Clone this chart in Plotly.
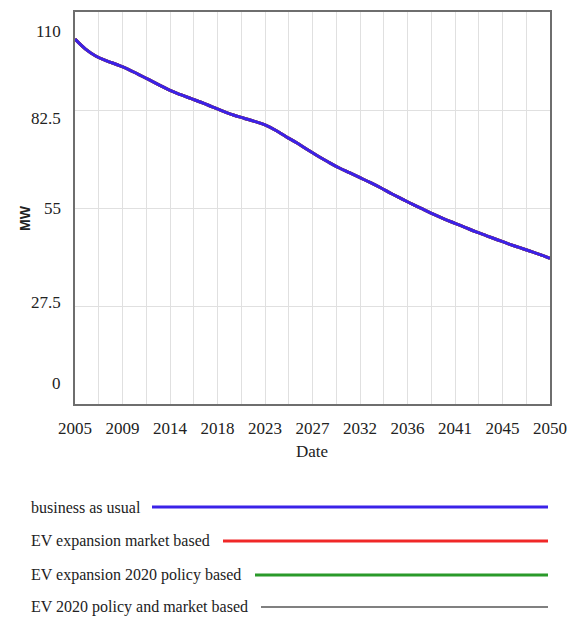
import plotly.graph_objects as go

years = list(range(2005, 2051))
business_as_usual = [102.4, 99.6, 97.6, 96.3, 95.2, 94.0, 92.5, 91.0, 89.5, 88.0,
                     86.8, 85.7, 84.6, 83.4, 82.2, 81.1, 80.2, 79.3, 78.3, 76.8,
                     75.0, 73.3, 71.4, 69.6, 67.9, 66.3, 64.9, 63.5, 62.1, 60.6,
                     59.0, 57.5, 56.0, 54.6, 53.2, 51.9, 50.7, 49.5, 48.3, 47.2,
                     46.1, 45.0, 44.0, 43.0, 42.0, 40.9]
# the other scenarios coincide with business as usual for this variable
ev_market = business_as_usual
ev_policy = business_as_usual
ev_policy_market = business_as_usual

series_names = ["business as usual", "EV expansion market based",
                "EV expansion 2020 policy based", "EV 2020 policy and market based"]
series_colors = ["#3a22e8", "#f02828", "#2a9a2a", "#808080"]
series_values = [business_as_usual, ev_market, ev_policy, ev_policy_market]

x_tick_vals = [2005, 2009.5, 2014, 2018.5, 2023, 2027.5, 2032, 2036.5, 2041, 2045.5, 2050]
x_tick_text = ["2005", "2009", "2014", "2018", "2023", "2027", "2032", "2036", "2041", "2045", "2050"]
y_tick_vals = [0, 27.5, 55, 82.5, 110]
y_tick_text = ["0", "27.5", "55", "82.5", "110"]

W, H = 568, 628
L, R, T, B = 75, 550, 12, 404


def px(xp):
    return (xp - L) / (R - L)


def py(yp):
    return (B - yp) / (B - T)


fig = go.Figure()
# draw in reverse so business as usual is on top
for name, col, vals in reversed(list(zip(series_names, series_colors, series_values))):
    fig.add_trace(go.Scatter(x=years, y=vals, mode="lines", name=name,
                             line=dict(color=col, width=3, shape="spline"),
                             showlegend=False))

serif = "Liberation Serif, Times New Roman, serif"
fig.update_layout(
    width=W, height=H,
    margin=dict(l=L, r=W - R, t=T, b=H - B, autoexpand=False),
    paper_bgcolor="white", plot_bgcolor="white",
    font=dict(family=serif, color="#222", size=16),
    showlegend=False,
    xaxis=dict(range=[2005, 2050], tickvals=x_tick_vals, ticktext=x_tick_text,
               automargin=False, ticklabeloverflow="allow",
               showgrid=True, gridcolor="#e0e0e0", gridwidth=1,
               minor=dict(dtick=2.25, tick0=2005, showgrid=True, gridcolor="#e0e0e0", gridwidth=1),
               showline=True, linecolor="#6e6e6e", linewidth=1.5, mirror=True,
               ticks="outside", ticklen=8, tickcolor="rgba(0,0,0,0)",
               tickfont=dict(family=serif, size=17, color="#222"),
               zeroline=False),
    yaxis=dict(range=[0, 110], tickvals=y_tick_vals, ticktext=y_tick_text,
               automargin=False, showticklabels=False,
               showgrid=True, gridcolor="#e0e0e0", gridwidth=1,
               showline=True, linecolor="#6e6e6e", linewidth=1.5, mirror=True,
               zeroline=False),
)

annotations = [
    dict(text="Date", x=px(312), y=py(463), xref="paper", yref="paper",
         showarrow=False, font=dict(family=serif, size=17, color="#222")),
    dict(text="<b>MW</b>", x=px(15), y=py(218), xref="paper", yref="paper",
         showarrow=False, textangle=-90,
         font=dict(family="Liberation Sans, Arial, sans-serif", size=14, color="#222")),
]
# y tick labels sit where the original rendering placed them
y_label_pix = [383, 302, 208, 118, 32]
for txt, yy in zip(y_tick_text, y_label_pix):
    annotations.append(dict(text=txt, x=px(63), y=py(yy), xref="paper", yref="paper",
                            xanchor="right", yanchor="middle", showarrow=False,
                            font=dict(family=serif, size=17, color="#222")))

shapes = []
legend_y = [507, 541, 575, 607]
legend_x0 = [152, 223, 255, 261]
for name, col, yy, x0 in zip(series_names, series_colors, legend_y, legend_x0):
    annotations.append(dict(text=name, x=px(29), y=py(yy), xref="paper", yref="paper",
                            xanchor="left", yanchor="middle", showarrow=False,
                            font=dict(family=serif, size=16, color="#222")))
    shapes.append(dict(type="line", xref="paper", yref="paper",
                       x0=px(x0), x1=px(548), y0=py(yy), y1=py(yy),
                       line=dict(color=col, width=3 if col != "#808080" else 2)))
fig.update_layout(annotations=annotations, shapes=shapes)

fig.write_html("out.html", config={"displayModeBar": False},
               post_script="document.body.style.margin='0';")
